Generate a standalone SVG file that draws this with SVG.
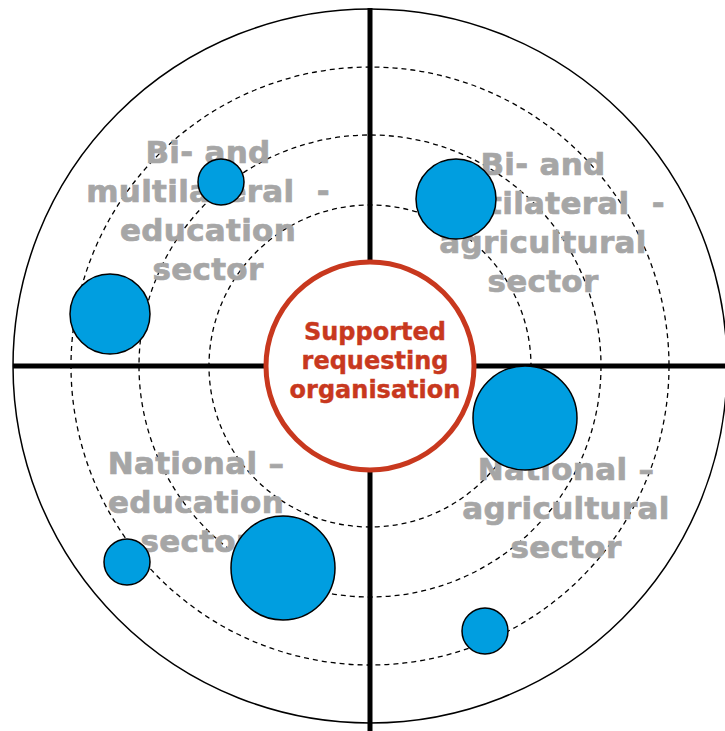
<svg xmlns="http://www.w3.org/2000/svg" width="725" height="731" viewBox="0 0 725 731">
<style>
.ring{fill:none;stroke:#000;stroke-width:1.3;stroke-dasharray:5,4}
.axis{stroke:#000;stroke-width:5}
.lbl{font-family:"DejaVu Sans",Verdana,sans-serif;font-weight:bold;font-size:31px;letter-spacing:0.3px;fill:#A6A6A6;stroke:#A6A6A6;stroke-width:0.7;text-anchor:middle}
.ctr{font-family:"DejaVu Sans",Verdana,sans-serif;font-weight:bold;font-size:24px;fill:#C8381E;stroke:#C8381E;stroke-width:0.4;text-anchor:middle}
.dot{fill:#009EE0;stroke:#000;stroke-width:1.5}
</style>
<rect width="725" height="731" fill="#fff"/>
<circle cx="370" cy="366" r="357" fill="none" stroke="#000" stroke-width="1.5"/>
<circle class="ring" cx="370" cy="366" r="161"/>
<circle class="ring" cx="370" cy="366" r="231"/>
<circle class="ring" cx="370" cy="366" r="299"/>
<g id="connectors">
<line class="axis" x1="370" y1="8" x2="370" y2="731"/>
<line class="axis" x1="13" y1="366" x2="725" y2="366"/>
</g>
<g id="labels">
<text class="lbl"><tspan x="208" y="163">Bi- and</tspan><tspan x="208" y="202">multilateral&#160; -</tspan><tspan x="208" y="241">education</tspan><tspan x="208" y="280">sector</tspan></text>
<text class="lbl"><tspan x="543" y="175">Bi- and</tspan><tspan x="543" y="214">multilateral&#160; -</tspan><tspan x="543" y="253">agricultural</tspan><tspan x="543" y="292">sector</tspan></text>
<text class="lbl"><tspan x="196" y="474">National –</tspan><tspan x="196" y="513">education</tspan><tspan x="196" y="552">sector</tspan></text>
<text class="lbl"><tspan x="566" y="480">National –</tspan><tspan x="566" y="519">agricultural</tspan><tspan x="566" y="558">sector</tspan></text>
</g>
<g id="center">
<circle cx="370" cy="366" r="104" fill="#fff" stroke="#C8381E" stroke-width="5"/>
<text class="ctr"><tspan x="375" y="340">Supported</tspan><tspan x="375" y="369">requesting</tspan><tspan x="375" y="398">organisation</tspan></text>
</g>
<g id="dots">
<circle id="d1" class="dot" cx="221" cy="182" r="23"/>
<circle id="d2" class="dot" cx="110" cy="314" r="40"/>
<circle id="d3" class="dot" cx="456" cy="199" r="40"/>
<circle id="d4" class="dot" cx="525" cy="418" r="52"/>
<circle id="d5" class="dot" cx="127" cy="562" r="23"/>
<circle id="d6" class="dot" cx="283" cy="568" r="52"/>
<circle id="d7" class="dot" cx="485" cy="631" r="23"/>
</g>
</svg>
